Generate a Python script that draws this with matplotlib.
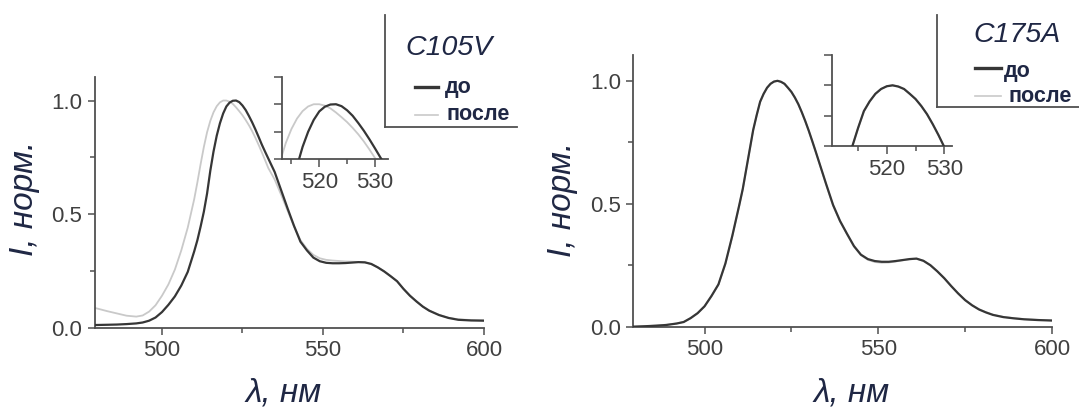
import matplotlib
matplotlib.use("Agg")
import matplotlib.pyplot as plt
from matplotlib.lines import Line2D

plt.rcParams["font.family"] = ["Liberation Sans", "DejaVu Sans"]

# =========================
# data
# =========================
wavelength = [
    479.5, 483, 486, 489, 492, 494, 496, 498, 500, 502, 504, 506, 508, 510,
    511, 512, 513, 514, 515, 516, 517, 518, 519, 520, 521, 522, 523, 524,
    525, 526, 527, 528, 529, 530, 531, 532, 533, 535, 537, 539, 541, 543,
    545, 547, 549, 551, 553, 555, 557, 559, 561, 563, 565, 567, 569, 571,
    573, 575, 577, 579, 581, 583, 586, 589, 592, 596, 600,
]

# C105V
c105v_before = [
    0.011, 0.012, 0.013, 0.015, 0.018, 0.022, 0.030, 0.044, 0.068, 0.100,
    0.137, 0.185, 0.245, 0.335, 0.385, 0.445, 0.510, 0.590, 0.690, 0.775,
    0.845, 0.900, 0.943, 0.974, 0.991, 0.999, 1.000, 0.993, 0.978, 0.958,
    0.932, 0.904, 0.873, 0.840, 0.806, 0.775, 0.745, 0.685, 0.605, 0.525,
    0.448, 0.378, 0.340, 0.308, 0.292, 0.285, 0.283, 0.283, 0.284, 0.286,
    0.288, 0.287, 0.280, 0.265, 0.247, 0.226, 0.204, 0.170, 0.140, 0.115,
    0.092, 0.074, 0.055, 0.042, 0.034, 0.031, 0.030,
]
c105v_after = [
    0.085, 0.072, 0.062, 0.052, 0.048, 0.053, 0.070, 0.098, 0.140, 0.190,
    0.255, 0.340, 0.440, 0.565, 0.640, 0.720, 0.795, 0.860, 0.910, 0.948,
    0.975, 0.992, 1.000, 1.000, 0.995, 0.985, 0.970, 0.953, 0.935, 0.914,
    0.891, 0.865, 0.836, 0.805, 0.772, 0.738, 0.703, 0.652, 0.585, 0.515,
    0.445, 0.385, 0.347, 0.320, 0.305, 0.298, 0.295, 0.293, 0.291, 0.290,
    0.289, 0.287, 0.279, 0.265, 0.248, 0.227, 0.203, 0.171, 0.141, 0.116,
    0.093, 0.075, 0.056, 0.043, 0.036, 0.033, 0.032,
]

# C175A
c175a_before = [
    0.000, 0.002, 0.004, 0.007, 0.013, 0.019, 0.035, 0.055, 0.083, 0.125,
    0.172, 0.257, 0.370, 0.495, 0.560, 0.640, 0.720, 0.800, 0.860, 0.915,
    0.947, 0.972, 0.988, 0.997, 1.000, 0.996, 0.988, 0.972, 0.955, 0.932,
    0.905, 0.872, 0.836, 0.797, 0.755, 0.712, 0.668, 0.580, 0.495, 0.430,
    0.378, 0.328, 0.293, 0.275, 0.267, 0.264, 0.264, 0.267, 0.271, 0.275,
    0.277, 0.268, 0.250, 0.225, 0.197, 0.165, 0.135, 0.108, 0.087, 0.070,
    0.058, 0.048, 0.039, 0.034, 0.030, 0.027, 0.025,
]
c175a_after = [
    0.001, 0.002, 0.005, 0.008, 0.013, 0.020, 0.034, 0.054, 0.082, 0.124,
    0.171, 0.255, 0.368, 0.493, 0.559, 0.639, 0.719, 0.799, 0.859, 0.914,
    0.946, 0.971, 0.988, 0.997, 1.000, 0.996, 0.987, 0.971, 0.954, 0.931,
    0.904, 0.871, 0.835, 0.796, 0.754, 0.711, 0.667, 0.578, 0.492, 0.428,
    0.376, 0.326, 0.291, 0.272, 0.263, 0.260, 0.261, 0.265, 0.270, 0.274,
    0.276, 0.268, 0.251, 0.226, 0.198, 0.166, 0.136, 0.109, 0.088, 0.071,
    0.059, 0.049, 0.040, 0.035, 0.031, 0.028, 0.026,
]

x_major = [500, 550, 600]
x_minor = [525, 575]
y_major = [0.0, 0.5, 1.0]
y_minor = [0.25, 0.75]
y_tick_labels = ["0.0", "0.5", "1.0"]
inset_x_major = [520, 530]
inset_x_minor = [515, 525]
inset_y_ticks = [0.8, 0.9, 1.0, 1.1]

legend_labels = ["до", "после"]

# =========================
# style
# =========================
W, H = 1079, 408
DARK = "#363636"
LIGHT = "#c9c9c9"
AXIS = "#505050"
TICK_TEXT = "#404040"
LABEL = "#1f2744"


def rect(left, top, right, bottom):
    return [left / W, 1 - bottom / H, (right - left) / W, (bottom - top) / H]


def fx(px):
    return px / W


def fy(py):
    return 1 - py / H


def style_axes(ax, major_len=5, minor_len=3.4, labelsize=16):
    for side in ("top", "right"):
        ax.spines[side].set_visible(False)
    for side in ("left", "bottom"):
        ax.spines[side].set_color(AXIS)
        ax.spines[side].set_linewidth(1.3)
    ax.tick_params(which="both", direction="out", color=AXIS, width=1.1)
    ax.tick_params(which="major", length=major_len, pad=4,
                   labelsize=labelsize, labelcolor=TICK_TEXT)
    ax.tick_params(which="minor", length=minor_len)


def draw_panel(main_box, main_xlim, inset_box, inset_xlim, before, after):
    ax = fig.add_axes(rect(*main_box))
    ax.plot(wavelength, after, color=LIGHT, lw=1.3, zorder=2, solid_joinstyle="round")
    ax.plot(wavelength, before, color=DARK, lw=1.6, zorder=3, solid_joinstyle="round")
    ax.set_xlim(*main_xlim)
    ax.set_ylim(0, 1.105)
    ax.set_xticks(x_major)
    ax.set_xticks(x_minor, minor=True)
    ax.set_yticks(y_major)
    ax.set_yticklabels(y_tick_labels)
    ax.set_yticks(y_minor, minor=True)
    style_axes(ax)
    ax.patch.set_alpha(0)

    ins = fig.add_axes(rect(*inset_box))
    ins.plot(wavelength, after, color=LIGHT, lw=1.3, zorder=2, solid_joinstyle="round")
    ins.plot(wavelength, before, color=DARK, lw=1.6, zorder=3, solid_joinstyle="round")
    ins.set_xlim(*inset_xlim)
    ins.set_ylim(0.8, 1.1)
    ins.set_xticks(inset_x_major)
    ins.set_xticks(inset_x_minor, minor=True)
    ins.set_yticks(inset_y_ticks)
    ins.set_yticklabels([])
    style_axes(ins, major_len=5.5, minor_len=3.4)
    ins.patch.set_alpha(0)
    return ax, ins


def draw_legend(box_left, box_top, box_bottom, box_right, title, title_xy,
                line_x, line_ys, text_xs, text_ys):
    fig.add_artist(Line2D([fx(box_left), fx(box_left)], [fy(box_top), fy(box_bottom)],
                          color=AXIS, lw=1.3))
    fig.add_artist(Line2D([fx(box_left), fx(box_right)], [fy(box_bottom), fy(box_bottom)],
                          color=AXIS, lw=1.3))
    fig.text(fx(title_xy[0]), fy(title_xy[1]), title, fontsize=20.5, style="italic",
             color=LABEL, va="baseline", ha="left")
    colors = [DARK, LIGHT]
    widths = [2.4, 1.2]
    for label, ly, tx, ty, c, lw in zip(legend_labels, line_ys, text_xs, text_ys, colors, widths):
        fig.add_artist(Line2D([fx(line_x[0]), fx(line_x[1])], [fy(ly), fy(ly)], color=c, lw=lw))
        fig.text(fx(tx), fy(ty), label, fontsize=15.5, fontweight="bold", color=LABEL,
                 va="baseline", ha="left")


fig = plt.figure(figsize=(W / 100, H / 100), dpi=100)

draw_panel((95, 76.7, 484, 327.5), (479.2, 600),
           (281.7, 76.7, 388.3, 159.3), (513.25, 532.4),
           c105v_before, c105v_after)
draw_panel((633.3, 55, 1052, 326.7), (479.5, 600),
           (832.3, 55, 951.7, 146), (510.5, 531.3),
           c175a_before, c175a_after)

# axis labels
for x, y in [(25, 198.5), (562, 199)]:
    fig.text(fx(x), fy(y), "I, норм.", rotation=90, fontsize=24, style="italic",
             color=LABEL, ha="center", va="center")
for x in [284, 852]:
    fig.text(fx(x), fy(402), "λ, нм", fontsize=24, style="italic",
             color=LABEL, ha="center", va="baseline")

# legend boxes
draw_legend(385, 15, 126.7, 516.7, "C105V", (405, 55),
            (415, 438), [86.7, 115], [445, 447], [93.3, 120])
draw_legend(937, 15, 107, 1079, "C175A", (973, 41.7),
            (975, 1001), [68.3, 96], [1004, 1009], [76.7, 101.5])

fig.savefig("out.png", dpi=100)
